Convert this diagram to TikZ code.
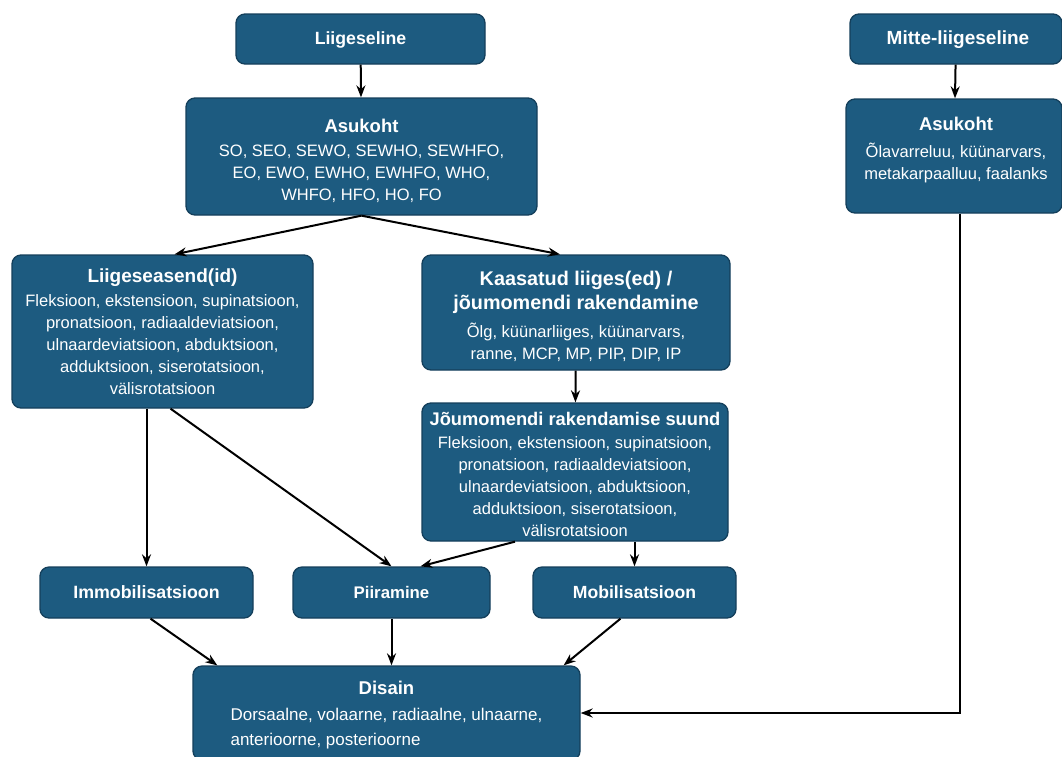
\documentclass[tikz,border=0pt]{standalone}
\usepackage{fontspec}
\setmainfont{Liberation Sans}
\usetikzlibrary{arrows.meta,calc}
\definecolor{boxfill}{HTML}{1D5B80}
\definecolor{boxline}{HTML}{143F5B}
\tikzset{
  box/.style={draw=boxline,line width=1.3pt,fill=boxfill,rounded corners=9pt,inner sep=0pt},
  txt/.style={text=white,align=center,inner sep=0pt,font=\fontsize{16.5}{22}\selectfont},
  conn/.style={line width=2pt,-{Stealth[length=12pt,width=9pt]}},
}
\newcommand{\ttl}[2]{{\fontsize{#1}{22}\selectfont\bfseries #2}}
\begin{document}
\begin{tikzpicture}[x=1pt,y=-1pt]
\useasboundingbox (0,0) rectangle (1062,756);
% boxes
\node[box,minimum width=249pt,minimum height=50pt] (lii) at (360.5,39) {};
\node[box,minimum width=351pt,minimum height=117pt] (asu) at (361.5,156.5) {};
\node[box,minimum width=212pt,minimum height=50pt] (mit) at (956,39) {};
\node[box,minimum width=216pt,minimum height=114pt] (asr) at (954,156) {};
\node[box,minimum width=301pt,minimum height=153pt] (pos) at (162.5,331.5) {};
\node[box,minimum width=308pt,minimum height=115pt] (kaa) at (576,312.5) {};
\node[box,minimum width=306pt,minimum height=138pt] (suu) at (575,472) {};
\node[box,minimum width=213pt,minimum height=51pt] (imm) at (146.5,592.5) {};
\node[box,minimum width=197pt,minimum height=51pt] (pii) at (391.5,592.5) {};
\node[box,minimum width=203pt,minimum height=51pt] (mob) at (634.5,592.5) {};
\node[box,minimum width=387pt,minimum height=94pt] (dis) at (386.5,713) {};
% texts
\node[txt] (tlii) at (360.5,40) {\ttl{17.7}{Liigeseline}};
\node[txt] (tasu) at (361.5,161) {\ttl{18.5}{Asukoht}\\[2pt]SO, SEO, SEWO, SEWHO, SEWHFO,\\EO, EWO, EWHO, EWHFO, WHO,\\WHFO, HFO, HO, FO};
\node[txt] (tmit) at (958,40) {\ttl{19}{Mitte-liigeseline}};
\node[txt] (tasr) at (956,150) {\ttl{18.5}{Asukoht}\\[5pt]Õlavarreluu, küünarvars,\\metakarpaalluu, faalanks};
\node[txt] (tpos) at (162.5,331.5) {\ttl{19}{Liigeseasend(id)}\\[2pt]Fleksioon, ekstensioon, supinatsioon,\\pronatsioon, radiaaldeviatsioon,\\ulnaardeviatsioon, abduktsioon,\\adduktsioon, siserotatsioon,\\välisrotatsioon};
\node[txt] (tkaa) at (576,316) {\ttl{19.8}{Kaasatud liiges(ed) /}\\[2pt]\ttl{19.8}{jõumomendi rakendamine}\\[6pt]Õlg, küünarliiges, küünarvars,\\ranne, MCP, MP, PIP, DIP, IP};
\node[txt] (tsuu) at (575,474) {\ttl{18.3}{Jõumomendi rakendamise suund}\\[1pt]Fleksioon, ekstensioon, supinatsioon,\\pronatsioon, radiaaldeviatsioon,\\ulnaardeviatsioon, abduktsioon,\\adduktsioon, siserotatsioon,\\välisrotatsioon};
\node[txt] (timm) at (146.5,592.5) {\ttl{17.8}{Immobilisatsioon}};
\node[txt] (tpii) at (391.5,592.5) {\ttl{16.8}{Piiramine}};
\node[txt] (tmob) at (634.5,592.5) {\ttl{17.6}{Mobilisatsioon}};
\node[txt,font=\fontsize{17}{25}\selectfont] (tdis) at (386.5,717)
  {\ttl{18.5}{Disain}\\[1pt]\begin{tabular}[t]{@{}l@{}}Dorsaalne, volaarne, radiaalne, ulnaarne,\\anterioorne, posterioorne\end{tabular}};
% connectors
\draw[conn] (lii) -- (asu);
\draw[conn] (mit) -- (asr);
\draw[conn] (asu.south) -- ($(pos.north)+(12,0)$);
\draw[conn] (asu.south) -- ($(kaa.north)+(-16,0)$);
\draw[conn] (kaa) -- (suu);
\draw[conn] (imm.north |- pos.south) -- (imm.north);
\draw[conn] ($(pos.south)+(8,0)$) -- (pii.north);
\draw[conn] ($(suu.south)+(-60,0)$) -- ($(pii.north)+(29,0)$);
\draw[conn] (mob.north |- suu.south) -- (mob.north);
\draw[conn] ($(imm.south)+(4,0)$) -- ($(dis.north west)+(25,0)$);
\draw[conn] (pii.south) -- (pii.south |- dis.north);
\draw[conn] ($(mob.south)+(-14,0)$) -- ($(dis.north east)+(-17,0)$);
\draw[conn] ($(asr.south)+(6,0)$) |- (dis.east);
\end{tikzpicture}
\end{document}
